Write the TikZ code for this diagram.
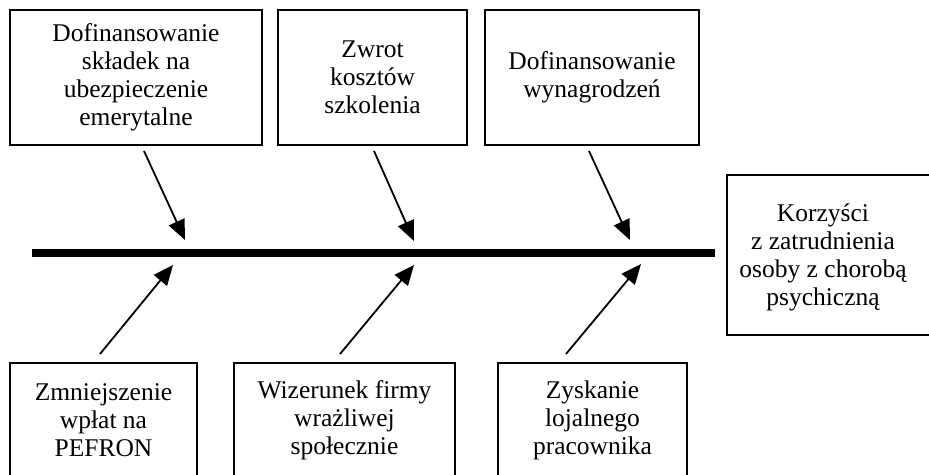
\documentclass[tikz,border=0pt]{standalone}
\usepackage{fontspec}
\setmainfont{Liberation Serif}
\usepackage{tikz}
\usetikzlibrary{arrows.meta}

\begin{document}
\begin{tikzpicture}[%show background rectangle,
        x=1pt, y=-1pt,
        font=\fontsize{25.5}{28}\selectfont,
        ramka/.style={draw, line width=2pt, align=center, inner sep=0pt},
        strzalka/.style={->, line width=1.8pt},
        >={Triangle[length=20pt,width=17pt]} % Voreinstellung der Pfeilspitzen
        ]
            \clip (0,0) rectangle (929,474);

            % Ursachen oben
            \node[ramka, minimum width=252, minimum height=135] (g1) at (136,77.5)
                {Dofinansowanie\\składek na\\ubezpieczenie\\emerytalne};
            \node[ramka, minimum width=189, minimum height=135] (g2) at (372.5,77.5)
                {Zwrot\\kosztów\\szkolenia};
            \node[ramka, minimum width=214, minimum height=135] (g3) at (592,77.5)
                {Dofinansowanie\\wynagrodzeń};

            % Ursachen unten
            \node[ramka, minimum width=187, minimum height=114] (d1) at (103.5,420)
                {Zmniejszenie\\wpłat na\\PEFRON};
            \node[ramka, minimum width=221, minimum height=114] (d2) at (344.5,420)
                {Wizerunek firmy\\wrażliwej\\społecznie};
            \node[ramka, minimum width=189, minimum height=114] (d3) at (592.5,420)
                {Zyskanie\\lojalnego\\pracownika};

            % Wirkung
            \node[ramka, minimum width=208, minimum height=160] (skutek) at (831,255) {};
            \node[align=center] (skutektxt) at (823,257)
                {Korzyści\\z zatrudnienia\\osoby z chorobą\\psychiczną};

            % Gräte
            \coordinate (ogon) at (32,253);
            \coordinate (glowa) at (715,253);
            \draw[line width=8pt] (ogon) -- (glowa);

            % Pfeile
            \coordinate (t1) at (185,240);
            \coordinate (t2) at (414,241);
            \coordinate (t3) at (630,240);
            \coordinate (b1) at (173,265);
            \coordinate (b2) at (414,265);
            \coordinate (b3) at (641,264);
            \draw[strzalka] ([xshift=8pt,yshift=-5pt]g1.south) -- (t1);
            \draw[strzalka] ([xshift=1.5pt,yshift=-5pt]g2.south) -- (t2);
            \draw[strzalka] ([xshift=-3pt,yshift=-5pt]g3.south) -- (t3);
            \draw[strzalka] ([xshift=-3.5pt,yshift=8pt]d1.north) -- (b1);
            \draw[strzalka] ([xshift=-4.5pt,yshift=8pt]d2.north) -- (b2);
            \draw[strzalka] ([xshift=-26.5pt,yshift=8pt]d3.north) -- (b3);

        \end{tikzpicture}
\end{document}
